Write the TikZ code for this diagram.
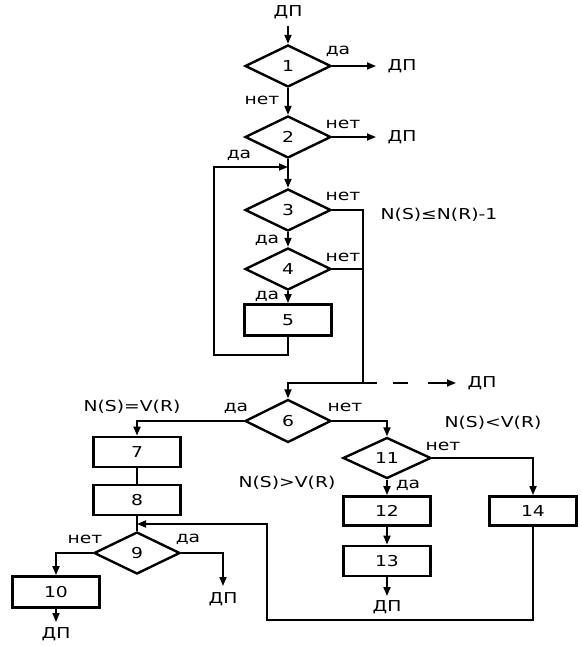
\documentclass[tikz,border=0pt]{standalone}
\usepackage{fontspec}
\setmainfont{DejaVu Sans}[FakeStretch=1.25]
\usetikzlibrary{shapes.geometric,arrows.meta}
\begin{document}
\begin{tikzpicture}[x=1pt,y=-1pt,
  dia/.style={diamond,draw,line width=2.4pt,minimum width=86pt,minimum height=42pt,inner sep=0pt,font=\fontsize{15}{17}\selectfont},
  blk/.style={rectangle,draw,line width=2.8pt,minimum width=86pt,minimum height=30pt,inner sep=0pt,font=\fontsize{15}{17}\selectfont},
  lbl/.style={inner sep=0pt,font=\fontsize{15}{17}\selectfont},
  con/.style={line width=1.8pt},
  arr/.style={con,-{Triangle[length=9pt,width=7pt]}}
]
\useasboundingbox (0,0) rectangle (581,646);
% top part
\node[lbl] (dp0) at (288,12) {ДП};
\coordinate (s0) at (288,26);
\node[dia] (d1) at (288,66) {1};
\node[lbl] (da1) at (338,51) {да};
\coordinate (e1) at (376,66);
\node[lbl] (dp1) at (402,66) {ДП};
\node[lbl] (net1) at (262,100) {нет};
\node[dia] (d2) at (288,137) {2};
\node[lbl] (net2) at (343,124) {нет};
\coordinate (e2) at (376,137);
\node[lbl] (dp2) at (402,137) {ДП};
\node[lbl] (da2) at (239,155) {да};
\coordinate (j1) at (288,167);
\node[dia] (d3) at (288,210) {3};
\node[lbl] (net3) at (343,196) {нет};
\node[lbl] (c1) at (439,215) {N(S)≤N(R)-1};
\node[lbl] (da3) at (267,240) {да};
\node[dia] (d4) at (288,269) {4};
\node[lbl] (net4) at (343,257) {нет};
\node[lbl] (da4) at (267,296) {да};
\node[blk,minimum width=87pt,minimum height=31pt] (b5) at (288,320) {5};
\coordinate (l1) at (214,355);
\coordinate (r3) at (363,383);
\coordinate (e3) at (456,383);
\node[lbl] (dp3) at (482,383) {ДП};

% middle
\node[dia,minimum height=43pt] (d6) at (288,421) {6};
\node[lbl] (da6) at (236,408) {да};
\node[lbl] (net6) at (345,407) {нет};
\node[lbl] (c2) at (132,407) {N(S)=V(R)};
\node[blk,minimum width=87pt] (b7) at (137,452) {7};
\node[blk,minimum width=87pt] (b8) at (137,500) {8};
\node[dia,minimum width=88pt,minimum height=41pt] (d11) at (387,458) {11};
\node[lbl] (c3) at (493,423) {N(S)<V(R)};
\node[lbl] (net11) at (443,446) {нет};
\node[lbl] (c4) at (287,483) {N(S)>V(R)};
\node[lbl] (da11) at (408,485) {да};
\node[blk,minimum width=87pt,minimum height=29pt] (b12) at (387,511) {12};
\node[blk,minimum width=87pt,minimum height=30pt] (b13) at (387,561) {13};
\coordinate (e13) at (387,596);
\node[lbl] (dp13) at (387,607) {ДП};
\node[blk,minimum width=87pt,minimum height=29pt] (b14) at (533,511) {14};

% bottom left
\coordinate (k2) at (137,524);
\coordinate (k1) at (267,620);
\node[dia] (d9) at (137,553) {9};
\node[lbl] (net9) at (85,539) {нет};
\node[lbl] (da9) at (188,539) {да};
\coordinate (e9) at (223,586);
\node[lbl] (dp9) at (223,599) {ДП};
\node[blk,minimum width=87pt,minimum height=31pt] (b10) at (56,592) {10};
\coordinate (e10) at (56,622);
\node[lbl] (dp10) at (56,634) {ДП};

\draw[arr] (s0) -- (d1.north);
\draw[arr] (d1.east) -- (e1);
\draw[arr] (d1.south) -- (d2.north);
\draw[arr] (d2.east) -- (e2);
\draw[arr] (d2.south) -- (d3.north);
\draw[arr] (b5.south) |- (l1) |- (j1);
\draw[arr] (d3.south) -- (d4.north);
\draw[arr] (d4.south) -- (b5.north);
\draw[con] (d3.east) -| (r3);
\draw[con] (d4.east) -- (d4.east -| r3);
\draw[arr] (r3) -| (d6.north);
\draw[arr,dash pattern=on 14pt off 16pt on 15pt off 20pt on 28pt] (r3) -- (e3);

\draw[arr] (d6.west) -| (b7.north);
\draw[arr] (d6.east) -| (d11.north);
\draw[con] (b7.south) -- (b8.north);
\draw[arr] (d11.east) -| (b14.north);
\draw[arr] (d11.south) -- (b12.north);
\draw[arr] (b12.south) -- (b13.north);
\draw[arr] (b13.south) -- (e13);
\draw[con] (b8.south) -- (d9.north);
\draw[arr] (b14.south) |- (k1) |- (k2);
\draw[arr] (d9.west) -| (b10.north);
\draw[arr] (d9.east) -| (e9);
\draw[arr] (b10.south) -- (e10);
\end{tikzpicture}
\end{document}
